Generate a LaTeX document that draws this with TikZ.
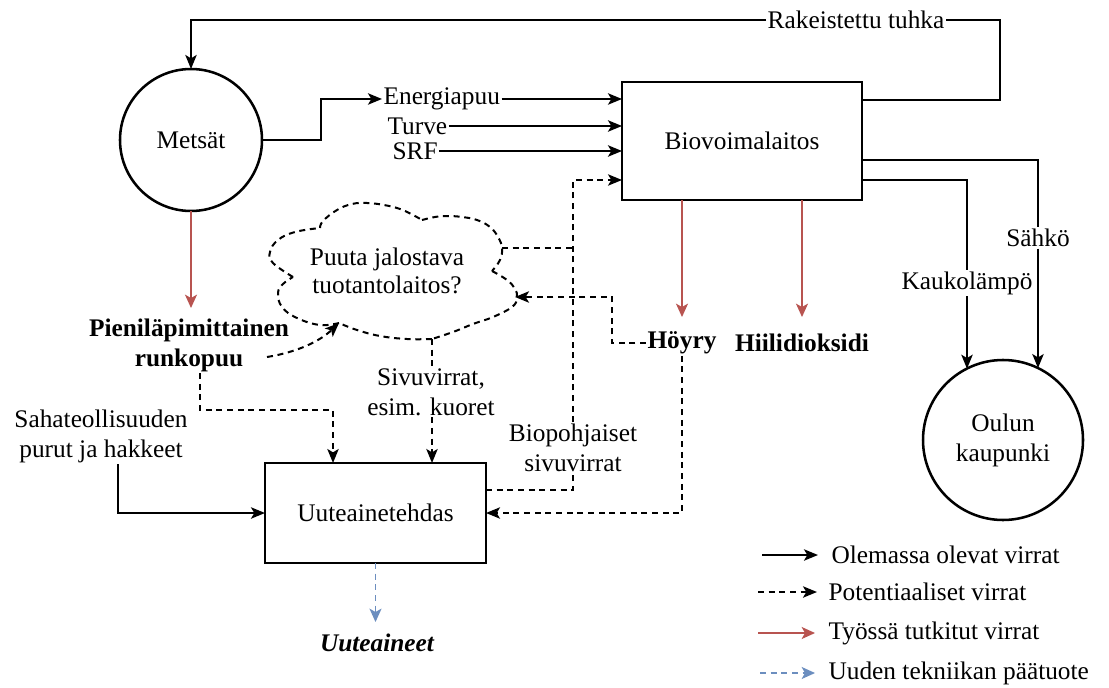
\documentclass[tikz,border=0pt]{standalone}
\usepackage{fontspec}
\setmainfont{Liberation Serif}
\usetikzlibrary{arrows.meta,calc}
\definecolor{redc}{HTML}{B85450}
\definecolor{bluec}{HTML}{6C8EBF}
\newcommand{\myfs}{\fontsize{19pt}{22.5pt}\selectfont}
\begin{document}
\begin{tikzpicture}[x=0.75pt,y=-0.75pt,
  lbl/.style={font=\myfs, inner sep=1pt, align=center},
  blk/.style={draw, line width=1.9pt, outer sep=0pt, font=\myfs, align=center},
  ln/.style={line width=1.6pt},
  arr/.style={ln, -{Stealth[length=10.5pt,width=8.5pt,inset=2.5pt]}},
  dln/.style={line width=1.5pt, dash pattern=on 4.5pt off 3.5pt},
  darr/.style={dln, -{Stealth[length=10.5pt,width=8.5pt,inset=2.5pt]}},
  rarr/.style={draw=redc, line width=1.2pt, -{Stealth[length=10pt,width=9pt,inset=2.5pt]}},
  barr/.style={draw=bluec, line width=1.2pt, dash pattern=on 4.5pt off 3.5pt, -{Stealth[length=10pt,width=9pt,inset=2.5pt]}}
]
\fill[white] (0,0) rectangle (1109,688);
\useasboundingbox (0,0) rectangle (1109,688);

% main nodes
\node[blk, circle, minimum size=106.5pt] (mets) at (191,140) {Metsät};
\node[blk, minimum width=180pt, minimum height=88.5pt] (bio) at (742,141) {Biovoimalaitos};
\node[blk, minimum width=165.75pt, minimum height=75pt] (uute) at (375.5,513) {Uuteainetehdas};
\node[blk, circle, minimum size=120pt] (oulu) at (1003,440) {Oulun\\kaupunki};

% labels
\node[lbl] (rt) at (856,20) {Rakeistettu tuhka};
\node[lbl, anchor=west] (en) at (382,99) {Energiapuu};
\node[lbl, anchor=west] (tu) at (386,126) {Turve};
\node[lbl, anchor=west] (srf) at (391,151) {SRF};
\node[lbl, font=\myfs\bfseries] (pieni) at (189,345) {Pieniläpimittainen\\runkopuu};
\node[lbl, font=\fontsize{19pt}{20.5pt}\selectfont] (cloudtxt) at (387,271) {Puuta jalostava\\tuotantolaitos?};
\node[lbl] (siv) at (431,392) {Sivuvirrat,\\esim. kuoret};
\node[lbl] (saha) at (101,436) {Sahateollisuuden\\purut ja hakkeet};
\node[lbl] (biop) at (573,448) {Biopohjaiset\\sivuvirrat};
\node[lbl, font=\myfs\bfseries] (hoy) at (682,343) {Höyry};
\node[lbl, font=\myfs\bfseries] (hiili) at (802,343) {Hiilidioksidi};
\node[lbl] (sahko) at (1038,238) {Sähkö};
\node[lbl] (kauko) at (967,283) {Kaukolämpö};
\node[lbl, font=\myfs\bfseries\itshape] (uaine) at (377,643) {Uuteaineet};

% cloud
\coordinate (A) at (293,277);
\coordinate (B) at (320,228);
\coordinate (C) at (422,220);
\coordinate (D) at (502,248);
\coordinate (E) at (492,271);
\coordinate (R) at (515,297);
\coordinate (F) at (432,339);
\coordinate (G) at (339,323);
\draw[dln] plot[smooth,tension=0.7] coordinates {(A) (273,263) (270,252) (278,240) (295,232) (B)};
\draw[dln] plot[smooth,tension=0.7] coordinates {(B) (323,221) (337,210) (352,204) (367,203) (384,205) (400,209) (413,215) (C)};
\draw[dln] plot[smooth,tension=0.7] coordinates {(C) (435,217) (447,216) (462,217) (477,220) (490,227) (498,237) (D) (500,260) (E)};
\draw[dln] plot[smooth,tension=0.7] coordinates {(E) (507,280) (515,289) (517,298) (512,307) (493,317) (473,324) (453,332) (F)};
\draw[dln] plot[smooth,tension=0.7] coordinates {(F) (407,339) (380,336) (357,330) (G)};
\draw[dln] plot[smooth,tension=0.7] coordinates {(G) (320,325) (297,318) (282,307) (278,293) (283,284) (A)};

% solid connectors
\draw[ln] ($(bio.north east)+(0,18)$) -| (1000,20) -- (rt.east);
\draw[arr] (rt.west) -| (mets.north);
\coordinate (m1) at (321,140);
\draw[arr] (mets.east) -- (m1) |- (en.west);
\draw[arr] (en.east) -- (en.east -| bio.west);
\draw[arr] (tu.east) -- (tu.east -| bio.west);
\draw[arr] (srf.east) -- (srf.east -| bio.west);
\draw[ln] ($(bio.north east)+(0,78)$) -| (sahko.north);
\draw[arr] (sahko.south) -- (sahko.south |- oulu.64);
\draw[ln] ($(bio.north east)+(0,98)$) -| (kauko.north);
\draw[arr] (kauko.south) -- (kauko.south |- oulu.117);
\draw[arr] ($(saha.south)+(17,0)$) |- (uute.west);

% red connectors
\draw[rarr] (mets.south) -- ++(0,97);
\draw[rarr] (hoy |- bio.south) -- ++(0,117);
\draw[rarr] (hiili |- bio.south) -- ++(0,117);

% dashed connectors
\coordinate (J) at (573,248);
\draw[dln] (D) -- (J);
\draw[darr] (biop.north) |- ($(bio.south west)+(0,-20)$);
\draw[dln] ($(uute.north east)+(0,27)$) -| (biop.south);
\coordinate (h1) at (612,297);
\draw[darr] (hoy.west) -| (h1) -- (R);
\draw[darr] (hoy.south) |- (uute.east);
\coordinate (P0) at (267,357);
\draw[darr] (P0) .. controls (298,352) and (320,341) .. (G);
\coordinate (k1) at (333,410);
\draw[darr] ($(pieni.south)+(11,0)$) |- (k1) -- (k1 |- uute.north);
\draw[dln] (F) -- (siv.north -| F);
\draw[darr] (siv.south -| F) -- (F |- uute.north);
\draw[barr] (uute.south) -- ++(0,59);

% legend
\node[lbl, anchor=west] (l1) at (830,555) {Olemassa olevat virrat};
\node[lbl, anchor=west] (l2) at (827,592) {Potentiaaliset virrat};
\node[lbl, anchor=west] (l3) at (827,633) {Työssä tutkitut virrat};
\node[lbl, anchor=west] (l4) at (827,673) {Uuden tekniikan päätuote};
\coordinate (l1a) at (762,555); \coordinate (l1b) at (818,555);
\coordinate (l2a) at (758,592); \coordinate (l2b) at (817,592);
\coordinate (l3a) at (758,633); \coordinate (l3b) at (815,633);
\coordinate (l4a) at (760,673); \coordinate (l4b) at (815,673);
\draw[arr] (l1a) -- (l1b);
\draw[darr] (l2a) -- (l2b);
\draw[rarr] (l3a) -- (l3b);
\draw[barr] (l4a) -- (l4b);
\end{tikzpicture}
\end{document}
